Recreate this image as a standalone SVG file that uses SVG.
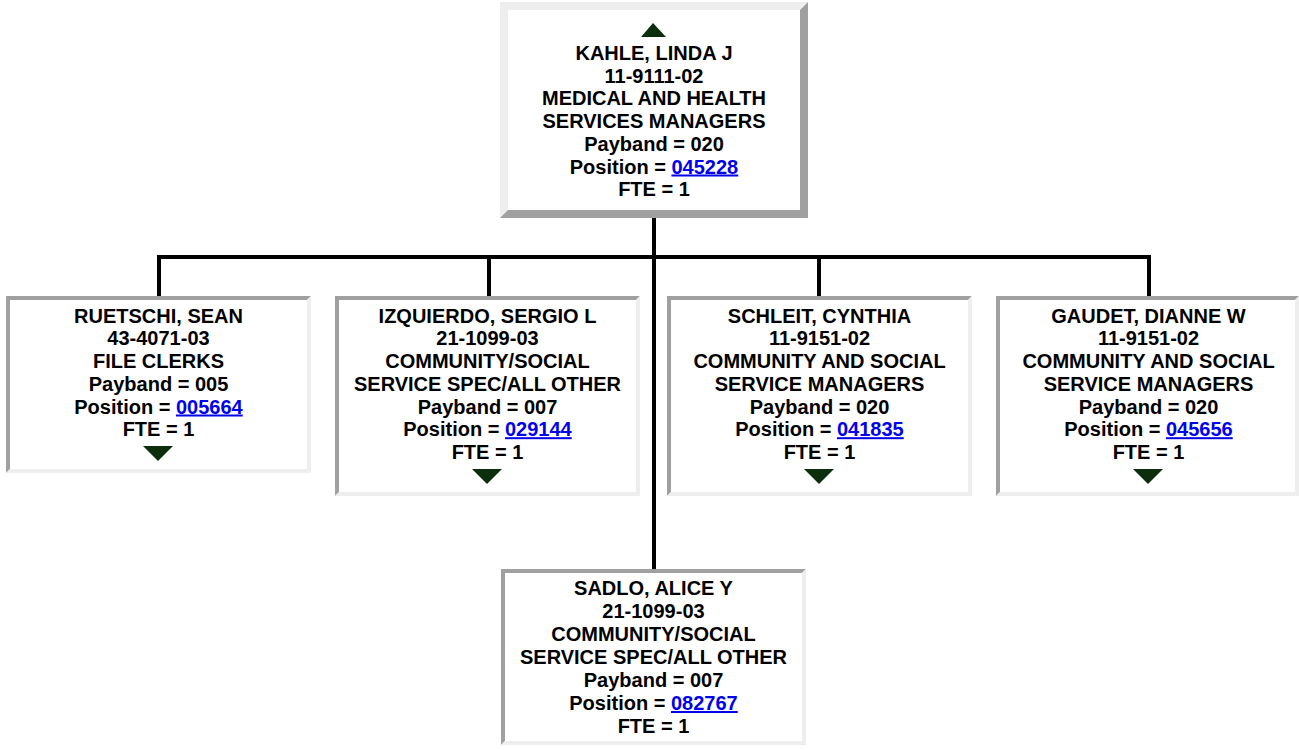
<svg xmlns="http://www.w3.org/2000/svg" width="1299" height="750" viewBox="0 0 1299 750">
<style>
.t{font-family:"Liberation Sans",Arial,sans-serif;font-size:20px;font-weight:bold;fill:#000;text-anchor:middle}
.lk{fill:#0000ee;text-decoration:underline}
.dk{fill:#a0a0a0}
.lt{fill:#eeeeee}
.ar{fill:#0d2e0d}
.cn{fill:#000}
</style>
<rect width="1299" height="750" fill="#fff"/>
<g id="connectors">
<rect class="cn" x="652" y="218" width="4" height="351"/>
<rect class="cn" x="157" y="255" width="994" height="4"/>
<rect class="cn" x="157" y="255" width="4" height="41"/>
<rect class="cn" x="487" y="255" width="4" height="41"/>
<rect class="cn" x="817" y="255" width="4" height="41"/>
<rect class="cn" x="1147" y="255" width="4" height="41"/>
</g>
<g id="node-kahle">
<rect x="500" y="2" width="308" height="216" fill="#fff"/>
<path class="lt" d="M500,2 H808 L800,10 H508 V210 L500,218 Z"/>
<path class="dk" d="M808,2 V218 H500 L508,210 H800 V10 Z"/>
<path class="ar" d="M653,23 L666,37 H641 Z"/>
<text class="t" x="654" y="60">KAHLE, LINDA J</text>
<text class="t" x="654" y="82.7">11-9111-02</text>
<text class="t" x="654" y="105.4">MEDICAL AND HEALTH</text>
<text class="t" x="654" y="128.1">SERVICES MANAGERS</text>
<text class="t" x="654" y="150.8">Payband = 020</text>
<text class="t" x="654" y="173.5">Position = <tspan class="lk">045228</tspan></text>
<text class="t" x="654" y="196.2">FTE = 1</text>
</g>
<g id="node-ruetschi">
<rect x="6" y="296" width="305" height="177" fill="#fff"/>
<path class="dk" d="M6,296 H311 L307,300 H10 V469 L6,473 Z"/>
<path class="lt" d="M311,296 V473 H6 L10,469 H307 V300 Z"/>
<text class="t" x="158.5" y="322.7">RUETSCHI, SEAN</text>
<text class="t" x="158.5" y="345.4">43-4071-03</text>
<text class="t" x="158.5" y="368.1">FILE CLERKS</text>
<text class="t" x="158.5" y="390.8">Payband = 005</text>
<text class="t" x="158.5" y="413.5">Position = <tspan class="lk">005664</tspan></text>
<text class="t" x="158.5" y="436.2">FTE = 1</text>
<path class="ar" d="M143,446 H173 L158,461 Z"/>
</g>
<g id="node-izquierdo">
<rect x="335" y="296" width="305" height="200" fill="#fff"/>
<path class="dk" d="M335,296 H640 L636,300 H339 V492 L335,496 Z"/>
<path class="lt" d="M640,296 V496 H335 L339,492 H636 V300 Z"/>
<text class="t" x="487.5" y="322.7">IZQUIERDO, SERGIO L</text>
<text class="t" x="487.5" y="345.4">21-1099-03</text>
<text class="t" x="487.5" y="368.1">COMMUNITY/SOCIAL</text>
<text class="t" x="487.5" y="390.8">SERVICE SPEC/ALL OTHER</text>
<text class="t" x="487.5" y="413.5">Payband = 007</text>
<text class="t" x="487.5" y="436.2">Position = <tspan class="lk">029144</tspan></text>
<text class="t" x="487.5" y="458.9">FTE = 1</text>
<path class="ar" d="M472,469 H502 L487,484 Z"/>
</g>
<g id="node-schleit">
<rect x="667" y="296" width="305" height="200" fill="#fff"/>
<path class="dk" d="M667,296 H972 L968,300 H671 V492 L667,496 Z"/>
<path class="lt" d="M972,296 V496 H667 L671,492 H968 V300 Z"/>
<text class="t" x="819.5" y="322.7">SCHLEIT, CYNTHIA</text>
<text class="t" x="819.5" y="345.4">11-9151-02</text>
<text class="t" x="819.5" y="368.1">COMMUNITY AND SOCIAL</text>
<text class="t" x="819.5" y="390.8">SERVICE MANAGERS</text>
<text class="t" x="819.5" y="413.5">Payband = 020</text>
<text class="t" x="819.5" y="436.2">Position = <tspan class="lk">041835</tspan></text>
<text class="t" x="819.5" y="458.9">FTE = 1</text>
<path class="ar" d="M804,469 H834 L819,484 Z"/>
</g>
<g id="node-gaudet">
<rect x="996" y="296" width="303" height="200" fill="#fff"/>
<path class="dk" d="M996,296 H1299 L1295,300 H1000 V492 L996,496 Z"/>
<path class="lt" d="M1299,296 V496 H996 L1000,492 H1295 V300 Z"/>
<text class="t" x="1148.5" y="322.7">GAUDET, DIANNE W</text>
<text class="t" x="1148.5" y="345.4">11-9151-02</text>
<text class="t" x="1148.5" y="368.1">COMMUNITY AND SOCIAL</text>
<text class="t" x="1148.5" y="390.8">SERVICE MANAGERS</text>
<text class="t" x="1148.5" y="413.5">Payband = 020</text>
<text class="t" x="1148.5" y="436.2">Position = <tspan class="lk">045656</tspan></text>
<text class="t" x="1148.5" y="458.9">FTE = 1</text>
<path class="ar" d="M1133,469 H1163 L1148,484 Z"/>
</g>
<g id="node-sadlo">
<rect x="501" y="569" width="305" height="176" fill="#fff"/>
<path class="dk" d="M501,569 H806 L802,573 H505 V741 L501,745 Z"/>
<path class="lt" d="M806,569 V745 H501 L505,741 H802 V573 Z"/>
<text class="t" x="653.5" y="595">SADLO, ALICE Y</text>
<text class="t" x="653.5" y="618">21-1099-03</text>
<text class="t" x="653.5" y="641">COMMUNITY/SOCIAL</text>
<text class="t" x="653.5" y="664">SERVICE SPEC/ALL OTHER</text>
<text class="t" x="653.5" y="687">Payband = 007</text>
<text class="t" x="653.5" y="710">Position = <tspan class="lk">082767</tspan></text>
<text class="t" x="653.5" y="733">FTE = 1</text>
</g>
</svg>
